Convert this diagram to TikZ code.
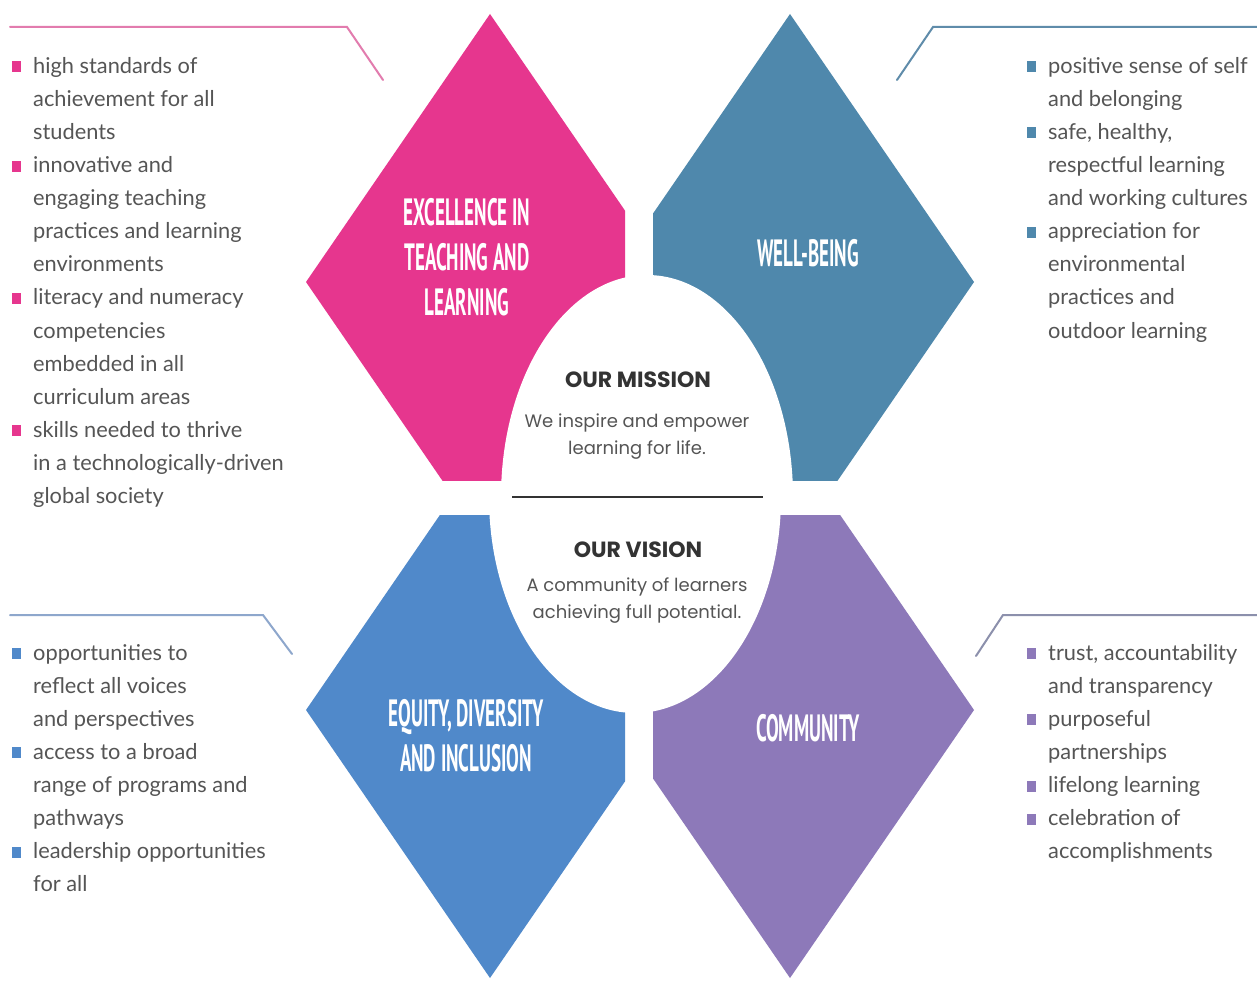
\documentclass[tikz,border=0pt]{standalone}
\usepackage{fontspec}
\setmainfont{Lato}
\newfontfamily\ctrfont{Poppins}
\newfontfamily\ttlfont{PT Sans}
\definecolor{cpink}{HTML}{E6368E}
\definecolor{cteal}{HTML}{4F88AC}
\definecolor{cblue}{HTML}{5089CA}
\definecolor{cpurple}{HTML}{8D79B9}
\definecolor{lpink}{HTML}{E27CAE}
\definecolor{lteal}{HTML}{5F8CAA}
\definecolor{lblue}{HTML}{8EA7CC}
\definecolor{lpurple}{HTML}{8C90AC}
\definecolor{txtgray}{HTML}{555555}
\definecolor{darkgray}{HTML}{333333}
\newcommand{\bsq}[1]{\makebox[21pt][l]{\textcolor{#1}{\rule[1pt]{9pt}{11pt}}}}
\newcommand{\ind}{\hspace*{21pt}}
\newcommand{\ttlx}[1]{\scalebox{0.5}[1]{#1}}
\tikzset{
  callout/.style={line width=2pt, line cap=round},
  ttl/.style={text=white, align=center, inner sep=0pt, font=\ttlfont\bfseries\fontsize{38}{45}\selectfont},
  lst/.style={anchor=north west, align=left, inner sep=0pt, text=txtgray, font=\fontsize{21.8}{33.1}\selectfont},
  ctrhead/.style={text=darkgray, inner sep=0pt, font=\ctrfont\bfseries\fontsize{22}{27}\selectfont},
  ctrbody/.style={text=txtgray, align=center, inner sep=0pt, font=\ctrfont\fontsize{18}{27}\selectfont}
}
\begin{document}
\begin{tikzpicture}[x=1pt,y=-1pt]
\useasboundingbox (0,0) rectangle (1257,981);
\fill[white] (0,0) rectangle (1257,981);
% diamonds, each clipped to its quadrant
\begin{scope}
\clip (0,0) rectangle (625,480);
\fill[cpink] (490,14) -- (674,282) -- (490,550) -- (306,282) -- cycle;
\end{scope}
\begin{scope}
\clip (653,0) rectangle (1257,480);
\fill[cteal] (790,14) -- (974,282) -- (790,550) -- (606,282) -- cycle;
\end{scope}
\begin{scope}
\clip (0,515) rectangle (625,981);
\fill[cblue] (490,442) -- (674,710) -- (490,978) -- (306,710) -- cycle;
\end{scope}
\begin{scope}
\clip (653,515) rectangle (1257,981);
\fill[cpurple] (790,442) -- (974,710) -- (790,978) -- (606,710) -- cycle;
\end{scope}
% central ellipse
\begin{scope}
\clip (0,0) rectangle (1257,497);
\fill[white] (647,497) ellipse [x radius=146, y radius=222];
\end{scope}
\begin{scope}
\clip (0,497) rectangle (1257,981);
\fill[white] (635,497) ellipse [x radius=146, y radius=216];
\end{scope}
% separator
\coordinate (sepL) at (512,497);
\coordinate (sepR) at (763,497);
\draw[darkgray, line width=2.5pt] (sepL) -- (sepR);
% callout lines
\coordinate (p1) at (10,27); \coordinate (p2) at (347,27); \coordinate (p3) at (383,80);
\draw[callout, lpink] (p1) -- (p2) -- (p3);
\coordinate (t1) at (1257,27); \coordinate (t2) at (933,27); \coordinate (t3) at (897,80);
\draw[callout, lteal] (t1) -- (t2) -- (t3);
\coordinate (b1) at (10,615); \coordinate (b2) at (263,615); \coordinate (b3) at (292,654);
\draw[callout, lblue] (b1) -- (b2) -- (b3);
\coordinate (u1) at (1257,615); \coordinate (u2) at (1003,615); \coordinate (u3) at (976,656);
\draw[callout, lpurple] (u1) -- (u2) -- (u3);
% titles
\node[ttl] (tpink) at (467,257) {\ttlx{EXCELLENCE IN}\\\ttlx{TEACHING AND}\\\ttlx{LEARNING}};
\node[ttl] (tteal) at (808,253) {\ttlx{WELL-BEING}};
\node[ttl] (tblue) at (466,736) {\ttlx{EQUITY, DIVERSITY}\\\ttlx{AND INCLUSION}};
\node[ttl] (tpurple) at (808,728) {\ttlx{COMMUNITY}};
% centre texts
\node[ctrhead] (mission) at (638,380) {OUR MISSION};
\node[ctrbody] (missiontxt) at (637,437) {We inspire and empower\\learning for life.};
\node[ctrhead] (vision) at (638,550) {OUR VISION};
\node[ctrbody] (visiontxt) at (637,601) {A community of learners\\achieving full potential.};
% lists
\node[lst] (lpinklist) at (12,57) {\bsq{cpink}high standards of\\\ind achievement for all\\\ind students\\
\bsq{cpink}innovative and\\\ind engaging teaching\\\ind practices and learning\\\ind environments\\
\bsq{cpink}literacy and numeracy\\\ind competencies\\\ind embedded in all\\\ind curriculum areas\\
\bsq{cpink}skills needed to thrive\\\ind in a technologically-driven\\\ind global society};
\node[lst] (ltealist) at (1027,57) {\bsq{cteal}positive sense of self\\\ind and belonging\\
\bsq{cteal}safe, healthy,\\\ind respectful learning\\\ind and working cultures\\
\bsq{cteal}appreciation for\\\ind environmental\\\ind practices and\\\ind outdoor learning};
\node[lst] (lbluelist) at (12,644) {\bsq{cblue}opportunities to\\\ind reflect all voices\\\ind and perspectives\\
\bsq{cblue}access to a broad\\\ind range of programs and\\\ind pathways\\
\bsq{cblue}leadership opportunities\\\ind for all};
\node[lst] (lpurplelist) at (1027,644) {\bsq{cpurple}trust, accountability\\\ind and transparency\\
\bsq{cpurple}purposeful\\\ind partnerships\\
\bsq{cpurple}lifelong learning\\
\bsq{cpurple}celebration of\\\ind accomplishments};
\end{tikzpicture}
\end{document}
